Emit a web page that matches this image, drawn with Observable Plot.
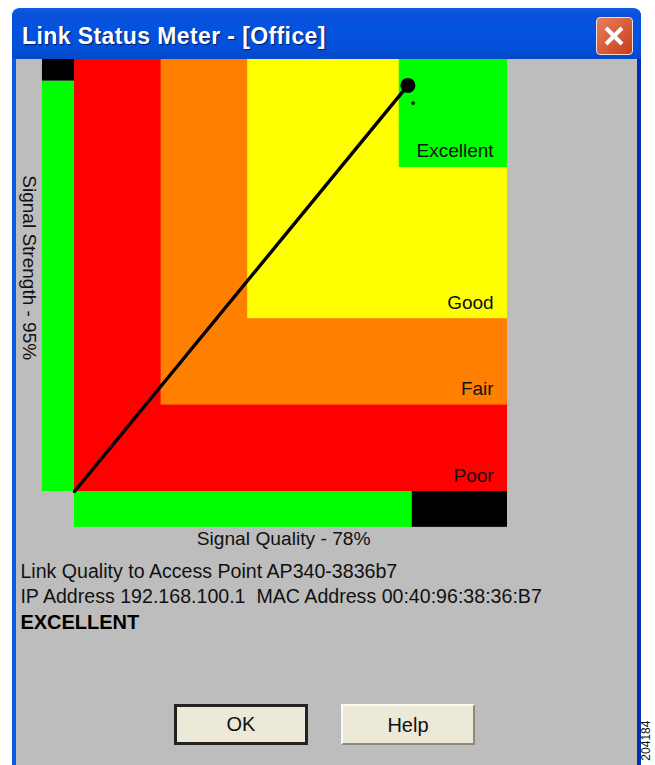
<!DOCTYPE html>
<html><head><meta charset="utf-8">
<script src="https://cdn.jsdelivr.net/npm/d3@7"></script>
<script src="https://cdn.jsdelivr.net/npm/@observablehq/plot@0.6"></script>
<style>
html,body{margin:0;padding:0;background:#fff;width:655px;height:765px;overflow:hidden}
#win{position:absolute;left:12px;top:8px;width:629px;height:757px;border-radius:8px 8px 0 0;background:linear-gradient(90deg,#0a5be6 0 4px,#bdbdbd 4px 625px,#0030b0 625px)}
#bar{position:absolute;left:0;top:0;width:629px;height:51px;border-radius:8px 8px 0 0;background:linear-gradient(180deg,#0a5fe8 0,#0a4fd8 12%,#0452e0 35%,#0350dc 75%,#0348c8 100%)}
#title{position:absolute;left:10px;top:13px;font:bold 23px "Liberation Sans",sans-serif;color:#fff;text-shadow:1px 1px 1px #001a70;white-space:nowrap;letter-spacing:.4px;transform:scaleY(1.08);transform-origin:left top}
#close{position:absolute;left:584px;top:9px;width:35px;height:36px;border:1px solid #f0e0d8;border-radius:4px;background:linear-gradient(135deg,#e8805c,#c83c18)}
#close svg{position:absolute;left:5px;top:6px}
.btn{position:absolute;top:704px;width:134px;height:41px;box-sizing:border-box;background:#ece9d8;text-align:center;font:20px/38px "Liberation Sans",sans-serif;color:#111;border:2px solid;border-color:#fafaf2 #8c8a78 #8c8a78 #fafaf2}
#ok{left:174px;border:3px solid #222;line-height:35px}
#help{left:341px}
#chart{position:absolute;left:0;top:0}
#chart svg{background:transparent!important}
</style></head><body>
<div id="win"><div id="bar"><div id="title">Link Status Meter - [Office]</div>
<div id="close"><svg width="25" height="24"><path d="M4 4L20 20M20 4L4 20" stroke="#fff" stroke-width="4"/></svg></div></div></div>
<div class="btn" id="ok">OK</div><div class="btn" id="help">Help</div>
<div id="chart"></div>
<script>
const zoneNames = ["Poor", "Fair", "Good", "Excellent"];
const zoneStarts = [0, 20, 40, 75];
const zoneColors = ["#ff0000", "#ff8000", "#ffff00", "#00ff00"];
const labelYs = [3.5, 23.7, 43.7, 78.9];

const qualityShown = 78, strengthShown = 95;
const pointX = 77, pointY = 94;
const barDepthX = -7.4, barDepthY = -8.3;

const infoLines = ["Link Quality to Access Point AP340-3836b7", "IP Address 192.168.100.1  MAC Address 00:40:96:38:36:B7"];
const statusText = "EXCELLENT";

const zones = zoneNames.map((name, i) => ({name, start: zoneStarts[i], fill: zoneColors[i], labelY: labelYs[i]}));
const font = "Liberation Sans";

const plot = Plot.plot({
  width: 655, height: 765,
  marginLeft: 74, marginRight: 148, marginTop: 59, marginBottom: 274,
  x: {domain: [0, 100], axis: null},
  y: {domain: [0, 100], axis: null},
  style: {background: "transparent", fontFamily: font},
  marks: [
    Plot.rect(zones, {x1: "start", x2: 100, y1: "start", y2: 100, fill: "fill"}),
    Plot.rect([{a: 0, b: strengthShown, f: "#00ff00"}, {a: strengthShown, b: 100, f: "#000"}],
      {x1: barDepthX, x2: 0, y1: "a", y2: "b", fill: "f"}),
    Plot.rect([{a: 0, b: qualityShown, f: "#00ff00"}, {a: qualityShown, b: 100, f: "#000"}],
      {x1: "a", x2: "b", y1: barDepthY, y2: 0, fill: "f"}),
    Plot.line([[0, 0], [pointX, pointY]], {stroke: "#000", strokeWidth: 3.4}),
    Plot.dot([[pointX, pointY]], {r: 7.5, fill: "#000"}),
    Plot.dot([[78.2, 89.9]], {r: 1.8, fill: "#000"}),
    Plot.text(zones, {x: 96.8, y: "labelY", text: "name", textAnchor: "end", fontSize: 19, fill: "#111"}),
    Plot.text(["Signal Quality - " + qualityShown + "%"], {x: 48.3, y: -11, text: d => d, fontSize: 19.2, fill: "#111"}),
    Plot.text(["Signal Strength - " + strengthShown + "%"], {x: -10.6, y: 51.8, text: d => d, rotate: 90, fontSize: 19, fill: "#111"}),
    Plot.text(infoLines, {x: -12.5, y: (d, i) => [-18.5, -24.3][i], text: d => d, textAnchor: "start", fontSize: 19.6, fill: "#111"}),
    Plot.text([statusText], {x: -12.5, y: -30.3, text: d => d, textAnchor: "start", fontSize: 20, fontWeight: "bold", fill: "#000"}),
    Plot.text(["204184"], {x: 132, y: -62.3, text: d => d, rotate: -90, textAnchor: "start", fontSize: 12, fill: "#111"})
  ]
});
document.getElementById("chart").append(plot);
</script></body></html>
